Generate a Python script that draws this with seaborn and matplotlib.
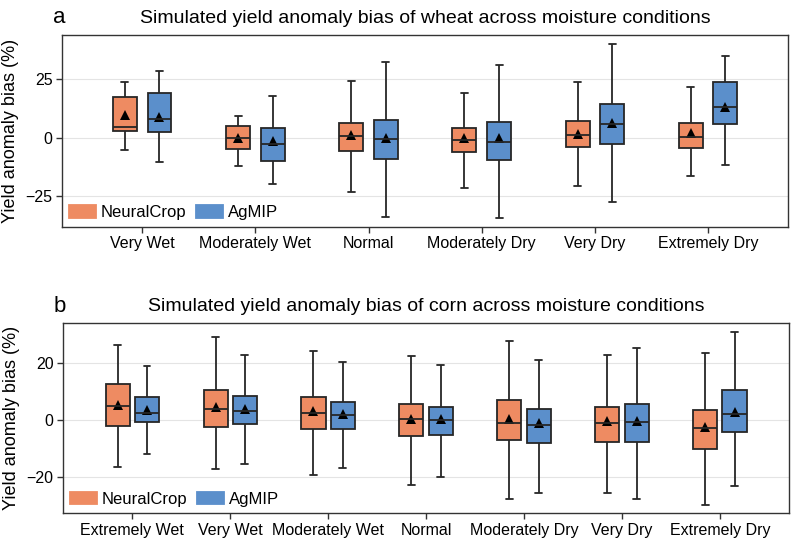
import numpy as np
import pandas as pd
import matplotlib
matplotlib.use("Agg")
import matplotlib.pyplot as plt
import seaborn as sns

# Box summaries: whisker ends, quartiles, median and mean (%)
models = ["NeuralCrop", "AgMIP"]
colors = ["#EE8B62", "#5B8FCB"]

wheat_conditions = ["Very Wet", "Moderately Wet", "Normal", "Moderately Dry",
                    "Very Dry", "Extremely Dry"]
wheat_nc_min = [-5.3, -12.0, -23.4, -21.6, -20.6, -16.3]
wheat_nc_q1 = [2.9, -4.9, -5.7, -6.3, -4.1, -4.6]
wheat_nc_med = [4.7, 0.0, 0.7, -1.0, 1.0, 0.1]
wheat_nc_q3 = [17.4, 5.0, 6.3, 4.0, 6.9, 6.1]
wheat_nc_max = [23.7, 9.3, 24.3, 19.3, 23.6, 21.7]
wheat_nc_mean = [9.7, -0.3, 1.1, -0.1, 1.7, 1.9]
wheat_ag_min = [-10.6, -19.9, -34.0, -34.3, -27.4, -11.6]
wheat_ag_q1 = [2.3, -9.9, -9.1, -9.7, -2.9, 6.0]
wheat_ag_med = [8.0, -2.7, -0.7, -1.7, 5.7, 13.3]
wheat_ag_q3 = [19.3, 3.9, 7.6, 6.6, 14.3, 23.9]
wheat_ag_max = [28.7, 18.0, 32.4, 31.1, 40.1, 35.0]
wheat_ag_mean = [8.7, -1.6, 0.0, -0.1, 6.1, 13.1]

corn_conditions = ["Extremely Wet", "Very Wet", "Moderately Wet", "Normal",
                   "Moderately Dry", "Very Dry", "Extremely Dry"]
corn_nc_min = [-16.5, -17.3, -19.1, -22.6, -27.5, -25.7, -29.8]
corn_nc_q1 = [-2.2, -2.5, -3.2, -5.6, -7.0, -7.6, -10.1]
corn_nc_med = [4.9, 3.7, 2.6, 0.2, -0.9, -0.9, -2.9]
corn_nc_q3 = [12.5, 10.5, 8.2, 5.5, 6.9, 4.7, 3.5]
corn_nc_max = [26.1, 29.0, 24.1, 22.3, 27.6, 22.6, 23.5]
corn_nc_mean = [5.3, 4.6, 3.0, 0.5, 0.4, -0.5, -2.3]
corn_ag_min = [-12.0, -15.4, -16.8, -19.9, -25.4, -27.6, -23.0]
corn_ag_q1 = [-0.7, -1.5, -3.0, -5.1, -8.1, -7.8, -4.1]
corn_ag_med = [2.5, 3.2, 1.6, -0.1, -1.8, -0.8, 2.0]
corn_ag_q3 = [8.0, 8.4, 6.2, 4.7, 3.7, 5.7, 10.5]
corn_ag_max = [18.9, 22.7, 20.2, 19.4, 21.1, 25.3, 30.9]
corn_ag_mean = [3.4, 3.9, 2.2, 0.5, -0.9, -0.2, 2.7]


def long_table(conditions, per_model):
    # five values per box -> quartiles land exactly on q1 / median / q3
    rows, means = [], []
    for model, (mn, q1, md, q3, mx, mean) in zip(models, per_model):
        for i, cond in enumerate(conditions):
            for v in (mn[i], q1[i], md[i], q3[i], mx[i]):
                rows.append((cond, model, v))
            means.append((cond, model, mean[i]))
    cols = ["Condition", "Model", "Bias"]
    return pd.DataFrame(rows, columns=cols), pd.DataFrame(means, columns=cols)


wheat_df, wheat_means = long_table(wheat_conditions, [
    (wheat_nc_min, wheat_nc_q1, wheat_nc_med, wheat_nc_q3, wheat_nc_max, wheat_nc_mean),
    (wheat_ag_min, wheat_ag_q1, wheat_ag_med, wheat_ag_q3, wheat_ag_max, wheat_ag_mean)])
corn_df, corn_means = long_table(corn_conditions, [
    (corn_nc_min, corn_nc_q1, corn_nc_med, corn_nc_q3, corn_nc_max, corn_nc_mean),
    (corn_ag_min, corn_ag_q1, corn_ag_med, corn_ag_q3, corn_ag_max, corn_ag_mean)])

sns.set_style("whitegrid", rc={
    "grid.color": "#e4e4e4", "axes.edgecolor": "#333333",
    "xtick.bottom": True, "ytick.left": True,
    "xtick.color": "#333333", "ytick.color": "#333333",
    "text.color": "black", "axes.labelcolor": "black",
})
plt.rcParams["font.family"] = ["Liberation Sans", "DejaVu Sans"]
plt.rcParams["xtick.labelcolor"] = "black"
plt.rcParams["ytick.labelcolor"] = "black"

fig = plt.figure(figsize=(7.93, 5.45), dpi=100)
ax_a = fig.add_axes([0.0786, 0.584, 0.915, 0.352])
ax_b = fig.add_axes([0.0798, 0.058, 0.915, 0.350])

panels = [
    (ax_a, wheat_df, wheat_means, wheat_conditions, 0.612, 0.31, 0.062,
     (-38.2, 44.0), [-25, 0, 25], "a", "wheat", 0.958),
    (ax_b, corn_df, corn_means, corn_conditions, 0.60, 0.18, 0.071,
     (-32.7, 34.1), [-20, 0, 20], "b", "corn", 0.428),
]

for ax, df, means, conds, width, gap, capw, ylim, yticks, letter, crop, ly in panels:
    sns.boxplot(data=df, x="Condition", y="Bias", hue="Model", order=conds,
                hue_order=models, palette=colors, saturation=1, ax=ax,
                width=width, gap=gap, whis=(0, 100), linecolor="#262626",
                linewidth=1.3, showfliers=False, capwidths=capw)
    sns.pointplot(data=means, x="Condition", y="Bias", hue="Model", order=conds,
                  hue_order=models, palette=["black", "black"], ax=ax,
                  dodge=width / 2, linestyle="none", markers="^",
                  markersize=6.5, markeredgewidth=0, errorbar=None, legend=False)
    ax.set_xlim(-0.705, len(conds) - 1 + 0.705)
    ax.set_ylim(*ylim)
    ax.set_yticks(yticks)
    ax.set_xlabel("")
    ax.set_ylabel("Yield anomaly bias (%)", fontsize=13, labelpad=5)
    ax.tick_params(axis="both", labelsize=11.5, length=4, width=1, pad=3)
    for s in ax.spines.values():
        s.set_linewidth(1.0)
    ax.set_title(f"Simulated yield anomaly bias of {crop} across moisture conditions",
                 fontsize=14, pad=8.5)
    fig.text(0.067, ly, letter, fontsize=16)
    sns.move_legend(ax, "lower left", ncol=2, frameon=False, title=None,
                    fontsize=12, handlelength=1.6, handleheight=0.8,
                    handletextpad=0.3, columnspacing=0.6,
                    borderaxespad=0.2, borderpad=0.2)
    for h in ax.get_legend().get_patches():
        h.set_edgecolor(h.get_facecolor())

fig.savefig("out.png", dpi=100)
